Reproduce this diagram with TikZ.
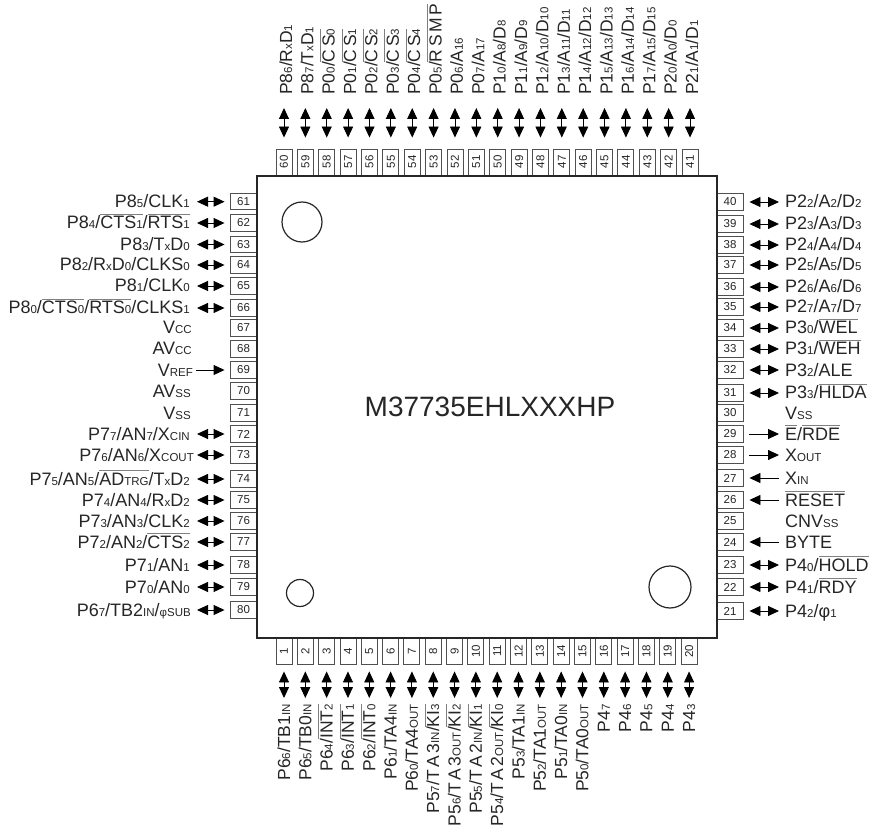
\documentclass[tikz,border=0pt]{standalone}
\usepackage{fontspec}
\setmainfont{Liberation Sans}
\usetikzlibrary{arrows.meta}
\definecolor{ink}{HTML}{262626}
\definecolor{boxline}{HTML}{505050}
\newcommand\sm[1]{{\fontsize{11.5}{11.5}\selectfont #1}}
\newcommand\ov[1]{\leavevmode\vbox{\color{gray}\hrule height .6pt\kern 1.6pt\hbox{\color{ink}#1}}}
\newcommand\gp{\hspace{2.6pt}}
\tikzset{
  x=1pt,y=-1pt,
  every node/.style={text=ink},
  lab/.style={inner sep=0pt,text height=12pt,text depth=0pt,font=\fontsize{18}{18}\selectfont},
  labv/.style={lab,rotate=90,font=\fontsize{17.5}{17.5}\selectfont},
  pinv/.style={draw=boxline,line width=.9pt,rotate=90,inner sep=0pt,minimum width=26pt,minimum height=16pt,font=\fontsize{11.5}{11.5}\selectfont},
  pinh/.style={draw=boxline,line width=.9pt,inner sep=0pt,minimum width=27pt,minimum height=16.5pt,font=\fontsize{11.5}{11.5}\selectfont},
  tip/.style={line width=.9pt,draw=black},
  both/.style={tip,{Triangle[length=11pt,width=10pt]}-{Triangle[length=11pt,width=10pt]}},
  onedir/.style={tip,-{Triangle[length=11pt,width=10pt]}},
  chipbody/.style={draw=ink,line width=1.6pt,inner sep=0pt,minimum width=460pt,minimum height=462pt},
  mark hole/.style={draw=ink,line width=1.2pt,circle,inner sep=0pt},
}
\begin{document}
\begin{tikzpicture}
\useasboundingbox (0,0) rectangle (873,826);
% top pins
\foreach \n/\i/\t in {
 60/0/{P8\sm6/R\sm{x}D\sm1},
 59/1/{P8\sm7/T\sm{x}D\sm1},
 58/2/{P0\sm0/\ov{C\gp S\sm0}},
 57/3/{P0\sm1/\ov{C\gp S\sm1}},
 56/4/{P0\sm2/\ov{C\gp S\sm2}},
 55/5/{P0\sm3/\ov{C\gp S\sm3}},
 54/6/{P0\sm4/\ov{C\gp S\sm4}},
 53/7/{P0\sm5/\ov{R\gp S\gp M\gp P}},
 52/8/{P0\sm6/A\sm{16}},
 51/9/{P0\sm7/A\sm{17}},
 50/10/{P1\sm0/A\sm8/D\sm8},
 49/11/{P1\sm1/A\sm9/D\sm9},
 48/12/{P1\sm2/A\sm{10}/D\sm{10}},
 47/13/{P1\sm3/A\sm{11}/D\sm{11}},
 46/14/{P1\sm4/A\sm{12}/D\sm{12}},
 45/15/{P1\sm5/A\sm{13}/D\sm{13}},
 44/16/{P1\sm6/A\sm{14}/D\sm{14}},
 43/17/{P1\sm7/A\sm{15}/D\sm{15}},
 42/18/{P2\sm0/A\sm0/D\sm0},
 41/19/{P2\sm1/A\sm1/D\sm1}}{
  \pgfmathsetmacro\xx{284+21.37*\i}
  \node[pinv] (p\n) at (\xx,162) {\n};
  \node[labv,anchor=west] (l\n) at (\xx+2,95) {\t};
  \draw[both,shorten <=11pt,shorten >=13pt] (p\n.east) -- (p\n.east |- l\n.west);
}
% bottom pins
\foreach \n/\i/\t in {
 1/0/{P6\sm6/TB1\sm{IN}},
 2/1/{P6\sm5/TB0\sm{IN}},
 3/2/{P6\sm4/\ov{INT\sm2}},
 4/3/{P6\sm3/\ov{INT\sm1}},
 5/4/{P6\sm2/\ov{INT\sm0}},
 6/5/{P6\sm1/TA4\sm{IN}},
 7/6/{P6\sm0/TA4\sm{OUT}},
 8/7/{P5\sm7/T\gp A\gp 3\sm{IN}/\ov{KI\sm3}},
 9/8/{P5\sm6/T\gp A\gp 3\sm{OUT}/\ov{KI\sm2}},
 10/9/{P5\sm5/T\gp A\gp 2\sm{IN}/\ov{KI\sm1}},
 11/10/{P5\sm4/T\gp A\gp 2\sm{OUT}/\ov{KI\sm0}},
 12/11/{P5\sm3/TA1\sm{IN}},
 13/12/{P5\sm2/TA1\sm{OUT}},
 14/13/{P5\sm1/TA0\sm{IN}},
 15/14/{P5\sm0/TA0\sm{OUT}},
 16/15/{P4\sm7},
 17/16/{P4\sm6},
 18/17/{P4\sm5},
 19/18/{P4\sm4},
 20/19/{P4\sm3}}{
  \pgfmathsetmacro\xx{284+21.32*\i}
  \node[pinv] (p\n) at (\xx,651) {\n};
  \node[labv,anchor=east] (l\n) at (\xx,704) {\t};
  \draw[both,shorten <=7pt,shorten >=6pt] (p\n.west) -- (p\n.west |- l\n.east);
}
% left pins
\foreach \n/\y/\t in {
 61/201.7/{P8\sm5/CLK\sm1},
 62/223/{P8\sm4/\ov{CTS\sm1}/\ov{RTS\sm1}},
 63/244.5/{P8\sm3/T\sm{x}D\sm0},
 64/265/{P8\sm2/R\sm{x}D\sm0/CLKS\sm0},
 65/286/{P8\sm1/CLK\sm0},
 66/308/{P8\sm0/\ov{CTS\sm0}/\ov{RTS\sm0}/CLKS\sm1},
 67/328/{V\sm{CC}\hspace*{-2pt}},
 68/349/{AV\sm{CC}\hspace*{-2pt}},
 69/370/{V\sm{REF}\hspace*{-3pt}},
 70/391/{AV\sm{SS}\hspace*{-1pt}},
 71/413/{V\sm{SS}\hspace*{-1pt}},
 72/434/{P7\sm7/AN\sm7/X\sm{CIN}},
 73/455/{P7\sm6/AN\sm6/X\sm{COUT}\hspace*{-4pt}},
 74/479/{P7\sm5/AN\sm5/\ov{AD\sm{TRG}}/T\sm{x}D\sm2},
 75/500/{P7\sm4/AN\sm4/R\sm{x}D\sm2},
 76/521/{P7\sm3/AN\sm3/CLK\sm2},
 77/542/{P7\sm2/AN\sm2/\ov{CTS\sm2}},
 78/565/{P7\sm1/AN\sm1},
 79/587/{P7\sm0/AN\sm0},
 80/610/{P6\sm7/TB2\sm{IN}/\sm{φSUB}\hspace*{-1pt}}}{
  \node[pinh] (p\n) at (243.5,\y) {\n};
  \node[lab,anchor=east] (l\n) at (190,\y) {\t};
}
\foreach \n in {61,...,66,72,73,...,80}{
  \draw[both,shorten <=7pt,shorten >=5pt] (l\n.east) -- (p\n.west);
}
\draw[onedir,shorten <=6pt,shorten >=5pt] (l69.east) -- (p69.west);
% right pins
\foreach \n/\y/\t in {
 40/202/{P2\sm2/A\sm2/D\sm2},
 39/224/{P2\sm3/A\sm3/D\sm3},
 38/245/{P2\sm4/A\sm4/D\sm4},
 37/265/{P2\sm5/A\sm5/D\sm5},
 36/287/{P2\sm6/A\sm6/D\sm6},
 35/307/{P2\sm7/A\sm7/D\sm7},
 34/328/{P3\sm0/\ov{WEL}},
 33/349/{P3\sm1/\ov{WEH}},
 32/370/{P3\sm2/ALE},
 31/393/{P3\sm3/\ov{HLDA}},
 30/413/{V\sm{SS}},
 29/434/{\ov{E}/\ov{RDE}},
 28/455/{X\sm{OUT}},
 27/478/{X\sm{IN}},
 26/500/{\ov{RESET}},
 25/521/{CNV\sm{SS}},
 24/542/{BYTE},
 23/565/{P4\sm0/\ov{HOLD}},
 22/587/{P4\sm1/\ov{RDY}},
 21/611/{P4\sm2/φ\sm1}}{
  \node[pinh,minimum width=26pt] (p\n) at (730,\y) {\n};
  \node[lab,anchor=west] (l\n) at (785,\y) {\t};
}
\foreach \n in {40,39,...,31,23,22,21}{
  \draw[both,shorten <=6pt,shorten >=6pt] (p\n.east) -- (l\n.west);
}
\draw[onedir,shorten <=6pt,shorten >=6pt] (p29.east) -- (l29.west);
\draw[onedir,shorten <=6pt,shorten >=6pt] (p28.east) -- (l28.west);
\draw[onedir,shorten <=6pt,shorten >=6pt] (l27.west) -- (p27.east);
\draw[onedir,shorten <=6pt,shorten >=6pt] (l26.west) -- (p26.east);
\draw[onedir,shorten <=6pt,shorten >=6pt] (l24.west) -- (p24.east);
% package
\node[chipbody] (chip) at (487,407) {};
\node[text=ink,inner sep=0pt,font=\fontsize{28}{28}\selectfont] (partno) at (490,407) {M37735EHLXXXHP};
\node[mark hole,minimum size=40pt] (m1) at (302,222) {};
\node[mark hole,minimum size=27pt] (m2) at (300,593) {};
\node[mark hole,minimum size=42pt] (m3) at (670,587) {};
\end{tikzpicture}
\end{document}
